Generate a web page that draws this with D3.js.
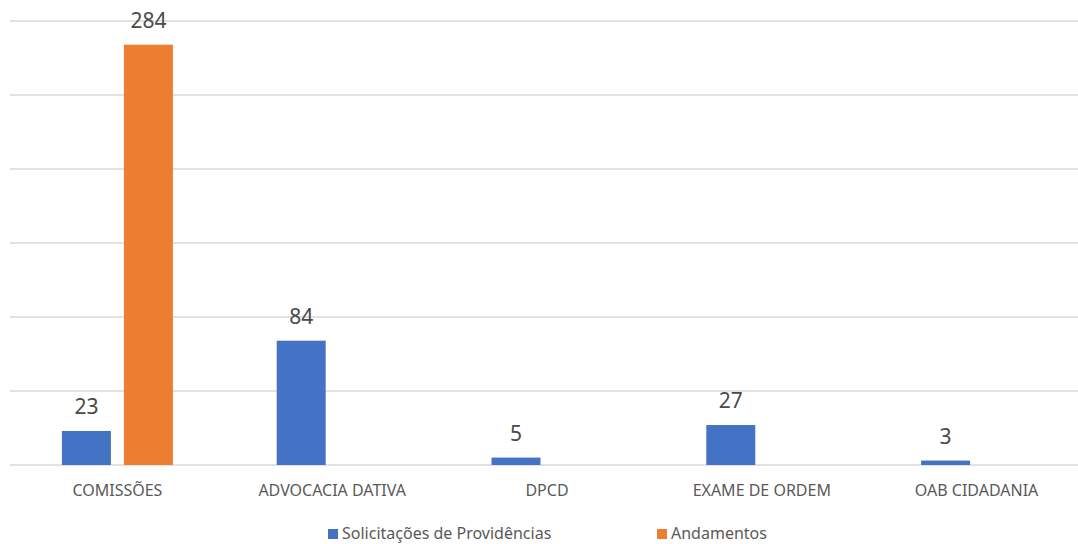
<!DOCTYPE html>
<html><head><meta charset="utf-8">
<script src="https://cdn.jsdelivr.net/npm/d3@7"></script>
<style>body{margin:0;background:#fff}svg{display:block}text{font-family:"Noto Sans",sans-serif}</style>
</head><body><svg id="c" width="1078" height="544"></svg>
<script>
const categories = ["COMISSÕES","ADVOCACIA DATIVA","DPCD","EXAME DE ORDEM","OAB CIDADANIA"];
const solicitacoes = [23, 84, 5, 27, 3];
const andamentos = [284, null, null, null, null];
const seriesNames = ["Solicitações de Providências","Andamentos"];
const yTicks = [0,50,100,150,200,250,300];

const colors = ["#4472C4","#ED7D31"];
const svg = d3.select("#c");
const x = d3.scaleBand().domain(categories).range([10, 1084]).paddingInner(0).paddingOuter(0);
const y = d3.scaleLinear().domain([0,300]).range([465, 21]);
const sub = d3.scaleBand().domain([0,1]).range([-55.5, 55.5]).paddingInner(0.21);

svg.append("g").selectAll("line").data(yTicks).join("line")
  .attr("x1",10).attr("x2",1078).attr("y1",d=>y(d)).attr("y2",d=>y(d))
  .attr("stroke","#d9d9d9").attr("stroke-width",1.5);

const series = [solicitacoes, andamentos];
series.forEach((vals, si) => {
  const g = svg.append("g");
  const data = categories.map((c,i)=>({c, v: vals[i]})).filter(d=>d.v!=null);
  g.selectAll("rect").data(data).join("rect")
    .attr("x", d=>x(d.c)+x.bandwidth()/2+sub(si))
    .attr("width", sub.bandwidth())
    .attr("y", d=>y(d.v)).attr("height", d=>y(0)-y(d.v))
    .attr("fill", colors[si]);
  g.selectAll("text").data(data).join("text")
    .attr("x", d=>x(d.c)+x.bandwidth()/2+sub(si)+sub.bandwidth()/2)
    .attr("y", d=>y(d.v)-17)
    .attr("text-anchor","middle").attr("font-size",21).attr("fill","#4a4a4a")
    .text(d=>d.v);
});

svg.append("g").selectAll("text").data(categories).join("text")
  .attr("x", d=>x(d)+x.bandwidth()/2).attr("y", 496)
  .attr("text-anchor","middle").attr("font-size",16).attr("fill","#595959")
  .text(d=>d);

const legX = [328, 657];
const lg = svg.append("g");
seriesNames.forEach((n,i)=>{
  lg.append("rect").attr("x",legX[i]).attr("y",529).attr("width",10).attr("height",10).attr("fill",colors[i]);
  lg.append("text").attr("x",legX[i]+14).attr("y",539).attr("font-size",16).attr("fill","#595959").text(n);
});
</script></body></html>
